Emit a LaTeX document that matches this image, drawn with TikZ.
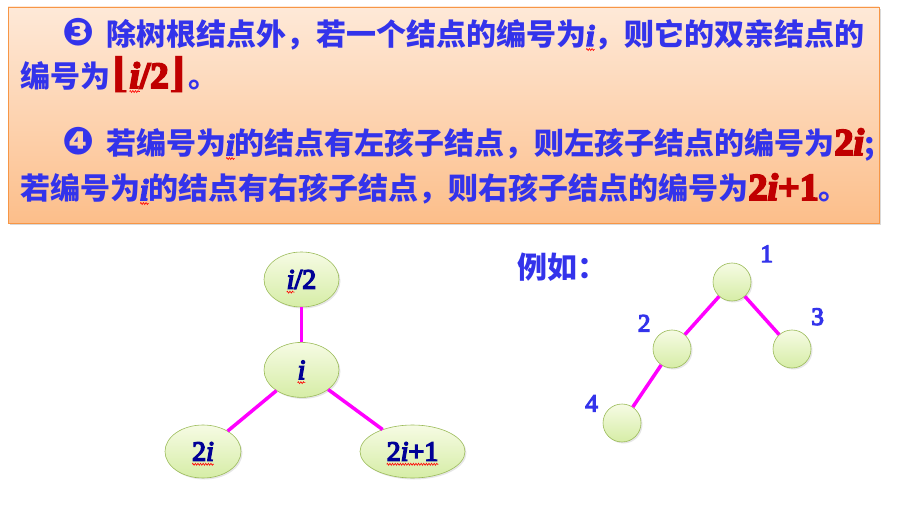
\documentclass[tikz,border=0pt]{standalone}
\usepackage{fontspec}
\setmainfont{Liberation Serif}
\newfontfamily\heavy{Liberation Serif}[FakeBold=5]
\newfontfamily\cjk{Noto Sans CJK SC}
\newfontfamily\dingfont{DejaVu Sans}
\newfontfamily\floorfont{DejaVu Serif}
\usetikzlibrary{positioning, shapes.geometric, shadows, decorations.pathmorphing}

\definecolor{textblue}{RGB}{51,51,235}
\definecolor{darkred}{RGB}{192,0,0}
\definecolor{navy}{RGB}{0,0,150}
\definecolor{boxtop}{RGB}{254,233,216}
\definecolor{boxbottom}{RGB}{252,190,138}
\definecolor{boxline}{RGB}{247,150,70}
\definecolor{nodetop}{RGB}{246,251,228}
\definecolor{nodebottom}{RGB}{214,237,166}
\definecolor{nodeline}{RGB}{155,187,89}
\definecolor{linkpink}{RGB}{255,0,255}

% red wavy underline of the spell checker
\newsavebox\sqbox
\newcommand{\sq}[1]{\sbox\sqbox{#1}\makebox[0pt][l]{\usebox\sqbox}\tikz[baseline=0pt, x=1pt, y=1pt]{\useasboundingbox (0,0) rectangle (\wd\sqbox,0); \draw[red, line width=0.6pt, decorate, decoration={zigzag, amplitude=1pt, segment length=2.6pt}] (0,-3.5) -- (\wd\sqbox,-3.5);}}
\newcommand{\bi}[1]{{\heavy\itshape #1}}
\newcommand{\num}[1]{\makebox[44pt][l]{\dingfont\fontsize{38}{38}\selectfont #1}}

\begin{document}
\begin{tikzpicture}[
            x=1pt,
            y=-1pt,
            semithick
        ]
        \tikzstyle{infobox}=[draw=boxline, thick, top color=boxtop, bottom color=boxbottom, minimum width=871pt, minimum height=216pt, inner sep=0pt, drop shadow={shadow xshift=2pt, shadow yshift=-2pt, opacity=0.3}]
        \tikzstyle{textline}=[anchor=base west, inner sep=0pt, font=\color{textblue}\cjk\bfseries\fontsize{30}{34}\selectfont]
        \tikzstyle{tnode}=[ellipse, draw=nodeline, top color=nodetop, bottom color=nodebottom, minimum width=75pt, minimum height=55pt, inner sep=0pt, font=\color{navy}\heavy\fontsize{28}{30}\selectfont, drop shadow={shadow xshift=1.5pt, shadow yshift=-1.5pt, opacity=0.2}]
        \tikzstyle{cnode}=[circle, draw=nodeline, top color=nodetop, bottom color=nodebottom, minimum size=38pt, inner sep=0pt, drop shadow={shadow xshift=1.5pt, shadow yshift=-1.5pt, opacity=0.2}]
        \tikzstyle{numlabel}=[font=\color{textblue}\heavy\fontsize{25}{25}\selectfont, inner sep=0pt]
        \tikzstyle{branch}=[draw=linkpink, line width=3.5pt]

        \useasboundingbox (0,0) rectangle (921,529);

        % text box
        \node[infobox] (box) at (443.5,115) {};
        \node[textline] (l1) at (62,46) {\num{❸}除树根结点外，若一个结点的编号为\sq{{\fontsize{30}{30}\selectfont\bi{i}}}，则它的双亲结点的};
        \node[textline] (l2) at (20,88) {编号为{\color{darkred}\heavy\fontsize{37}{40}\selectfont{\floorfont\fontsize{41}{41}\selectfont ⌊}\sq{\bi{i}}/2{\floorfont\fontsize{41}{41}\selectfont ⌋}}。};
        \node[textline] (l3) at (62,155) {\num{❹}若编号为\sq{{\fontsize{30}{30}\selectfont\bi{i}}}的结点有左孩子结点，则左孩子结点的编号为{\color{darkred}\heavy\fontsize{38}{40}\selectfont 2\itshape i\/};};
        \node[textline] (l4) at (20,200) {若编号为\sq{{\fontsize{30}{30}\selectfont\bi{i}}}的结点有右孩子结点，则右孩子结点的编号为{\color{darkred}\heavy\fontsize{38}{40}\selectfont 2\itshape i\/\upshape +1}。};

        % general tree
        \node[tnode] (half) at (301.5,279.5) {\sq{\itshape i}/2};
        \node[tnode] (i) [below=35pt of half] {\sq{\itshape i}};
        \node[tnode, minimum width=76pt, minimum height=53pt] (left) at (203,451.5) {\sq{2\itshape i}};
        \node[tnode, minimum width=105pt, minimum height=53pt] (right) at (412.5,451.5) {\sq{2\itshape i\/\upshape +1}};

        \path (half) edge[branch] (i)
        (i) edge[branch] (left)
        (i) edge[branch] (right);

        % example
        \node[textline, anchor=west] (ex) at (517,267) {例如：};
        \node[cnode, label={[numlabel, label distance=15pt]35:1}] (n1) at (732,282) {};
        \node[cnode, label={[numlabel, label distance=8pt]141:2}] (n2) at (672,349) {};
        \node[cnode, label={[numlabel, label distance=11pt]51:3}] (n3) at (792,349) {};
        \node[cnode, label={[numlabel, label distance=7pt]155:4}] (n4) at (622,423) {};

        \path (n1) edge[branch] (n2)
        (n1) edge[branch] (n3)
        (n2) edge[branch] (n4);
    \end{tikzpicture}
\end{document}
